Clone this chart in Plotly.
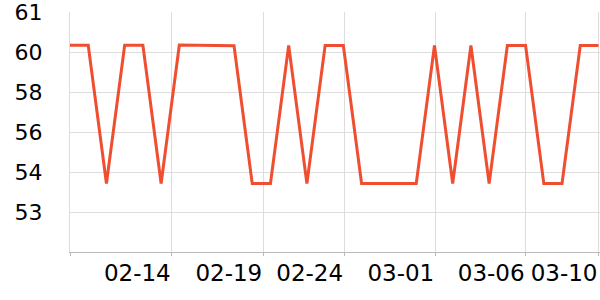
import plotly.graph_objects as go
import pandas as pd

dates = pd.date_range("2023-02-09", "2023-03-10", freq="D").strftime("%Y-%m-%d").tolist()
values = [59.93, 59.93, 53.9, 59.93, 59.93, 53.9, 59.94, 59.93, 59.92, 59.91,
          53.9, 53.9, 59.92, 53.9, 59.92, 59.92, 53.9, 53.9, 53.9, 53.9,
          59.92, 53.9, 59.92, 53.9, 59.92, 59.92, 53.9, 53.9, 59.92, 59.92]

x_tickvals = ["2023-02-09", "2023-02-14 14:00", "2023-02-19 14:30", "2023-02-24 01:00",
              "2023-03-01 01:00", "2023-03-06", "2023-03-10"]
x_ticktext = ["", "02-14", "02-19", "02-24", "03-01", "03-06", "03-10"]

y_tickvals = [61.375, 59.631, 57.887, 56.143, 54.399, 52.655]
y_ticktext = ["61", "60", "58", "56", "54", "53"]
y_range = [50.911, 61.38]

fig = go.Figure()
fig.add_trace(go.Scatter(
    x=dates, y=values, mode="lines",
    line=dict(color="#f04e30", width=3),
    hoverinfo="skip",
))

fig.update_layout(
    width=600, height=300,
    margin=dict(l=70, r=0, t=10, b=48),
    paper_bgcolor="white", plot_bgcolor="white",
    showlegend=False,
    font=dict(family="DejaVu Sans", size=22, color="black"),
)
fig.update_xaxes(
    type="date",
    range=[dates[0], "2023-03-10 02:00"],
    tickvals=x_tickvals, ticktext=x_ticktext,
    ticklabelposition="outside left",
    ticklabeloverflow="allow",
    tickangle=0,
    tickfont=dict(size=23),
    showgrid=True, gridcolor="#dddddd", gridwidth=1,
    showline=True, linecolor="#bbbbbb", linewidth=1,
    ticks="outside", ticklen=3, tickcolor="#bbbbbb",
    zeroline=False,
)
fig.update_yaxes(
    range=y_range,
    tickvals=y_tickvals, ticktext=y_ticktext,
    ticklabeloverflow="allow",
    showgrid=True, gridcolor="#dddddd", gridwidth=1,
    showline=True, linecolor="#dddddd", linewidth=1,
    ticks="", ticklabelstandoff=22,
    zeroline=False,
)

fig.write_html("out.html")
